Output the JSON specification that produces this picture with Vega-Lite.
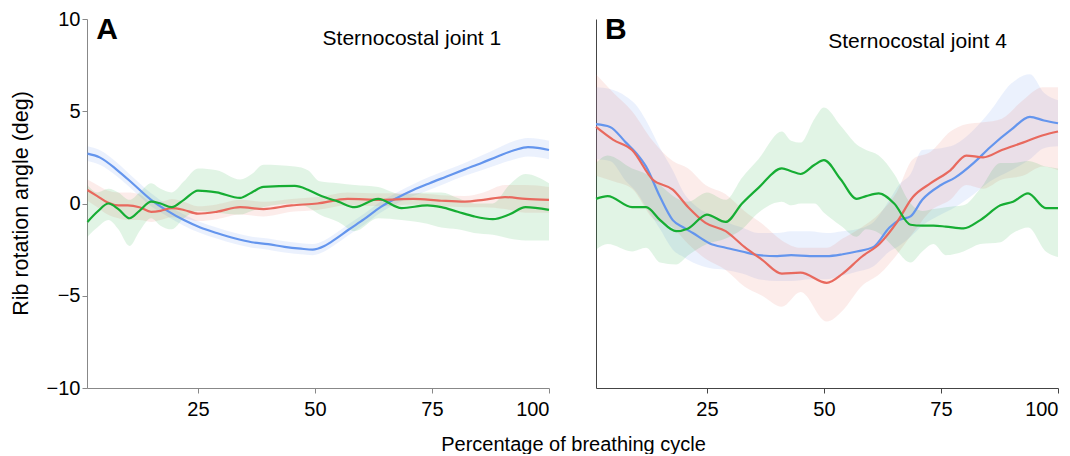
{
  "$schema": "https://vega.github.io/schema/vega-lite/v6.json",
  "padding": {"left": 10, "top": 9, "right": 5, "bottom": 0},
  "bounds": "flush",
  "spacing": 47,
  "config": {
    "font": "Liberation Sans",
    "view": {"stroke": null},
    "axis": {"grid": false, "labelFontSize": 20, "labelColor": "#000", "titleColor": "#000", "titleFontWeight": "normal", "tickSize": 5, "labelPadding": 6}
  },
  "data": {"values": [
    {"panel":"A","series":"S1","x":1.4,"y":2.7,"lo":2.3,"hi":3.1},
    {"panel":"A","series":"S1","x":4,"y":2.5,"lo":2.1,"hi":2.9},
    {"panel":"A","series":"S1","x":7.8,"y":1.8,"lo":1.45,"hi":2.2},
    {"panel":"A","series":"S1","x":11,"y":1.1,"lo":0.75,"hi":1.45},
    {"panel":"A","series":"S1","x":15,"y":0.2,"lo":-0.15,"hi":0.55},
    {"panel":"A","series":"S1","x":18.5,"y":-0.4,"lo":-0.7,"hi":-0.1},
    {"panel":"A","series":"S1","x":22,"y":-0.9,"lo":-1.2,"hi":-0.6},
    {"panel":"A","series":"S1","x":25.5,"y":-1.3,"lo":-1.6,"hi":-1.0},
    {"panel":"A","series":"S1","x":29,"y":-1.6,"lo":-1.9,"hi":-1.3},
    {"panel":"A","series":"S1","x":33,"y":-1.9,"lo":-2.2,"hi":-1.6},
    {"panel":"A","series":"S1","x":36.5,"y":-2.1,"lo":-2.4,"hi":-1.8},
    {"panel":"A","series":"S1","x":40,"y":-2.2,"lo":-2.5,"hi":-1.9},
    {"panel":"A","series":"S1","x":43.5,"y":-2.35,"lo":-2.65,"hi":-2.05},
    {"panel":"A","series":"S1","x":47,"y":-2.45,"lo":-2.75,"hi":-2.15},
    {"panel":"A","series":"S1","x":49.5,"y":-2.5,"lo":-2.8,"hi":-2.2},
    {"panel":"A","series":"S1","x":52,"y":-2.3,"lo":-2.6,"hi":-2.0},
    {"panel":"A","series":"S1","x":54.5,"y":-1.9,"lo":-2.2,"hi":-1.6},
    {"panel":"A","series":"S1","x":57,"y":-1.45,"lo":-1.75,"hi":-1.15},
    {"panel":"A","series":"S1","x":60.5,"y":-0.85,"lo":-1.15,"hi":-0.55},
    {"panel":"A","series":"S1","x":64,"y":-0.2,"lo":-0.5,"hi":0.1},
    {"panel":"A","series":"S1","x":67.5,"y":0.3,"lo":0.0,"hi":0.6},
    {"panel":"A","series":"S1","x":71,"y":0.73,"lo":0.4,"hi":1.05},
    {"panel":"A","series":"S1","x":74.5,"y":1.1,"lo":0.75,"hi":1.45},
    {"panel":"A","series":"S1","x":78,"y":1.45,"lo":1.1,"hi":1.8},
    {"panel":"A","series":"S1","x":82,"y":1.85,"lo":1.5,"hi":2.2},
    {"panel":"A","series":"S1","x":85.6,"y":2.2,"lo":1.8,"hi":2.6},
    {"panel":"A","series":"S1","x":89,"y":2.55,"lo":2.1,"hi":3.0},
    {"panel":"A","series":"S1","x":92.7,"y":2.9,"lo":2.4,"hi":3.4},
    {"panel":"A","series":"S1","x":95.5,"y":3.06,"lo":2.55,"hi":3.55},
    {"panel":"A","series":"S1","x":98,"y":3.0,"lo":2.5,"hi":3.5},
    {"panel":"A","series":"S1","x":100,"y":2.9,"lo":2.4,"hi":3.4},

    {"panel":"A","series":"S2","x":1.4,"y":0.73,"lo":0.15,"hi":1.3},
    {"panel":"A","series":"S2","x":3.5,"y":0.4,"lo":-0.2,"hi":1.0},
    {"panel":"A","series":"S2","x":5.7,"y":0.05,"lo":-0.6,"hi":0.7},
    {"panel":"A","series":"S2","x":8,"y":-0.1,"lo":-0.8,"hi":0.6},
    {"panel":"A","series":"S2","x":10,"y":-0.1,"lo":-0.9,"hi":0.6},
    {"panel":"A","series":"S2","x":12.5,"y":-0.2,"lo":-0.9,"hi":0.5},
    {"panel":"A","series":"S2","x":15,"y":-0.45,"lo":-1.0,"hi":0.1},
    {"panel":"A","series":"S2","x":17,"y":-0.4,"lo":-0.9,"hi":0.1},
    {"panel":"A","series":"S2","x":19.4,"y":-0.25,"lo":-0.75,"hi":0.25},
    {"panel":"A","series":"S2","x":22,"y":-0.35,"lo":-0.8,"hi":0.1},
    {"panel":"A","series":"S2","x":25,"y":-0.55,"lo":-0.95,"hi":-0.15},
    {"panel":"A","series":"S2","x":29,"y":-0.45,"lo":-0.85,"hi":-0.05},
    {"panel":"A","series":"S2","x":34,"y":-0.2,"lo":-0.6,"hi":0.2},
    {"panel":"A","series":"S2","x":39,"y":-0.3,"lo":-0.7,"hi":0.1},
    {"panel":"A","series":"S2","x":45,"y":-0.1,"lo":-0.45,"hi":0.25},
    {"panel":"A","series":"S2","x":50.5,"y":0.0,"lo":-0.35,"hi":0.35},
    {"panel":"A","series":"S2","x":57,"y":0.25,"lo":-0.1,"hi":0.6},
    {"panel":"A","series":"S2","x":64,"y":0.2,"lo":-0.15,"hi":0.55},
    {"panel":"A","series":"S2","x":71,"y":0.25,"lo":-0.05,"hi":0.55},
    {"panel":"A","series":"S2","x":77,"y":0.15,"lo":-0.15,"hi":0.45},
    {"panel":"A","series":"S2","x":82,"y":0.1,"lo":-0.2,"hi":0.4},
    {"panel":"A","series":"S2","x":86,"y":0.2,"lo":-0.2,"hi":0.6},
    {"panel":"A","series":"S2","x":90.6,"y":0.35,"lo":-0.3,"hi":1.0},
    {"panel":"A","series":"S2","x":95,"y":0.25,"lo":-0.5,"hi":1.0},
    {"panel":"A","series":"S2","x":100,"y":0.2,"lo":-0.5,"hi":0.9},

    {"panel":"A","series":"S3","x":1.4,"y":-1.0,"lo":-1.8,"hi":1.0},
    {"panel":"A","series":"S3","x":3.5,"y":-0.45,"lo":-1.3,"hi":0.6},
    {"panel":"A","series":"S3","x":5.9,"y":0.0,"lo":-0.9,"hi":0.8},
    {"panel":"A","series":"S3","x":8,"y":-0.3,"lo":-1.4,"hi":0.6},
    {"panel":"A","series":"S3","x":10.4,"y":-0.8,"lo":-2.3,"hi":0.2},
    {"panel":"A","series":"S3","x":12.5,"y":-0.4,"lo":-1.5,"hi":0.6},
    {"panel":"A","series":"S3","x":15,"y":0.1,"lo":-0.8,"hi":1.1},
    {"panel":"A","series":"S3","x":17,"y":0.0,"lo":-1.2,"hi":0.8},
    {"panel":"A","series":"S3","x":19.4,"y":-0.2,"lo":-1.4,"hi":0.6},
    {"panel":"A","series":"S3","x":22,"y":0.2,"lo":-0.8,"hi":1.2},
    {"panel":"A","series":"S3","x":25,"y":0.7,"lo":-0.4,"hi":1.9},
    {"panel":"A","series":"S3","x":29,"y":0.6,"lo":-0.5,"hi":1.8},
    {"panel":"A","series":"S3","x":34,"y":0.3,"lo":-0.6,"hi":1.3},
    {"panel":"A","series":"S3","x":36.5,"y":0.6,"lo":-0.4,"hi":1.6},
    {"panel":"A","series":"S3","x":39,"y":0.9,"lo":-0.2,"hi":2.1},
    {"panel":"A","series":"S3","x":45.7,"y":0.95,"lo":0.0,"hi":2.0},
    {"panel":"A","series":"S3","x":48.5,"y":0.75,"lo":-0.2,"hi":1.8},
    {"panel":"A","series":"S3","x":51,"y":0.45,"lo":-0.6,"hi":1.2},
    {"panel":"A","series":"S3","x":55,"y":0.1,"lo":-1.0,"hi":1.1},
    {"panel":"A","series":"S3","x":58.5,"y":-0.2,"lo":-1.5,"hi":1.0},
    {"panel":"A","series":"S3","x":63.5,"y":0.25,"lo":-0.8,"hi":0.9},
    {"panel":"A","series":"S3","x":68.5,"y":-0.25,"lo":-0.9,"hi":0.5},
    {"panel":"A","series":"S3","x":74,"y":-0.1,"lo":-1.1,"hi":0.6},
    {"panel":"A","series":"S3","x":77,"y":-0.2,"lo":-1.3,"hi":0.6},
    {"panel":"A","series":"S3","x":80.5,"y":-0.45,"lo":-1.4,"hi":0.3},
    {"panel":"A","series":"S3","x":84,"y":-0.7,"lo":-1.6,"hi":0.0},
    {"panel":"A","series":"S3","x":88,"y":-0.85,"lo":-1.7,"hi":0.0},
    {"panel":"A","series":"S3","x":91.5,"y":-0.6,"lo":-1.9,"hi":1.0},
    {"panel":"A","series":"S3","x":95,"y":-0.2,"lo":-2.0,"hi":1.6},
    {"panel":"A","series":"S3","x":100,"y":-0.35,"lo":-2.0,"hi":1.1},

    {"panel":"B","series":"S1","x":1.3,"y":4.3,"lo":2.4,"hi":6.3},
    {"panel":"B","series":"S1","x":4.3,"y":4.15,"lo":2.3,"hi":6.2},
    {"panel":"B","series":"S1","x":7.7,"y":3.3,"lo":1.2,"hi":5.8},
    {"panel":"B","series":"S1","x":10,"y":2.7,"lo":0.6,"hi":5.3},
    {"panel":"B","series":"S1","x":12,"y":2.0,"lo":-0.2,"hi":4.5},
    {"panel":"B","series":"S1","x":15,"y":0.35,"lo":-1.4,"hi":3.0},
    {"panel":"B","series":"S1","x":17.7,"y":-0.9,"lo":-2.5,"hi":1.8},
    {"panel":"B","series":"S1","x":20,"y":-1.3,"lo":-2.9,"hi":0.6},
    {"panel":"B","series":"S1","x":22,"y":-1.6,"lo":-3.2,"hi":0.0},
    {"panel":"B","series":"S1","x":25.5,"y":-2.15,"lo":-3.5,"hi":-0.6},
    {"panel":"B","series":"S1","x":29,"y":-2.4,"lo":-3.6,"hi":-1.0},
    {"panel":"B","series":"S1","x":32.5,"y":-2.6,"lo":-3.8,"hi":-1.3},
    {"panel":"B","series":"S1","x":36,"y":-2.8,"lo":-4.1,"hi":-1.6},
    {"panel":"B","series":"S1","x":40,"y":-2.85,"lo":-4.2,"hi":-1.6},
    {"panel":"B","series":"S1","x":43,"y":-2.8,"lo":-4.2,"hi":-1.5},
    {"panel":"B","series":"S1","x":47,"y":-2.85,"lo":-4.1,"hi":-1.5},
    {"panel":"B","series":"S1","x":50.6,"y":-2.85,"lo":-4.1,"hi":-1.6},
    {"panel":"B","series":"S1","x":54,"y":-2.75,"lo":-3.9,"hi":-1.5},
    {"panel":"B","series":"S1","x":57,"y":-2.6,"lo":-3.7,"hi":-1.4},
    {"panel":"B","series":"S1","x":60.6,"y":-2.35,"lo":-3.4,"hi":-1.0},
    {"panel":"B","series":"S1","x":64,"y":-1.3,"lo":-2.6,"hi":0.2},
    {"panel":"B","series":"S1","x":66,"y":-0.9,"lo":-2.3,"hi":1.0},
    {"panel":"B","series":"S1","x":68.5,"y":-0.7,"lo":-1.8,"hi":1.6},
    {"panel":"B","series":"S1","x":71,"y":0.2,"lo":-1.2,"hi":2.9},
    {"panel":"B","series":"S1","x":75,"y":1.0,"lo":-0.6,"hi":3.0},
    {"panel":"B","series":"S1","x":78,"y":1.4,"lo":-0.2,"hi":3.2},
    {"panel":"B","series":"S1","x":82,"y":2.2,"lo":0.5,"hi":4.0},
    {"panel":"B","series":"S1","x":85.5,"y":3.05,"lo":1.2,"hi":5.0},
    {"panel":"B","series":"S1","x":90,"y":4.0,"lo":1.8,"hi":6.5},
    {"panel":"B","series":"S1","x":94,"y":4.7,"lo":2.4,"hi":7.0},
    {"panel":"B","series":"S1","x":97,"y":4.5,"lo":3.0,"hi":6.0},
    {"panel":"B","series":"S1","x":100,"y":4.35,"lo":3.1,"hi":5.6},

    {"panel":"B","series":"S2","x":1.3,"y":4.15,"lo":1.5,"hi":7.0},
    {"panel":"B","series":"S2","x":5,"y":3.45,"lo":1.2,"hi":6.0},
    {"panel":"B","series":"S2","x":9,"y":2.9,"lo":0.8,"hi":5.0},
    {"panel":"B","series":"S2","x":13.4,"y":1.3,"lo":-0.8,"hi":3.4},
    {"panel":"B","series":"S2","x":17.7,"y":0.75,"lo":-1.3,"hi":2.3},
    {"panel":"B","series":"S2","x":21,"y":-0.2,"lo":-2.2,"hi":1.9},
    {"panel":"B","series":"S2","x":24.7,"y":-1.05,"lo":-3.0,"hi":1.0},
    {"panel":"B","series":"S2","x":29,"y":-1.5,"lo":-3.6,"hi":0.5},
    {"panel":"B","series":"S2","x":33,"y":-2.35,"lo":-4.5,"hi":-0.4},
    {"panel":"B","series":"S2","x":36.8,"y":-3.05,"lo":-5.0,"hi":-1.1},
    {"panel":"B","series":"S2","x":41,"y":-3.8,"lo":-5.6,"hi":-2.0},
    {"panel":"B","series":"S2","x":45,"y":-3.75,"lo":-4.8,"hi":-2.4},
    {"panel":"B","series":"S2","x":50.6,"y":-4.3,"lo":-6.4,"hi":-2.4},
    {"panel":"B","series":"S2","x":54,"y":-3.8,"lo":-5.8,"hi":-1.9},
    {"panel":"B","series":"S2","x":58,"y":-2.9,"lo":-4.5,"hi":-1.3},
    {"panel":"B","series":"S2","x":62,"y":-2.15,"lo":-3.8,"hi":-0.5},
    {"panel":"B","series":"S2","x":65.5,"y":-1.05,"lo":-2.8,"hi":0.6},
    {"panel":"B","series":"S2","x":69,"y":0.35,"lo":-1.6,"hi":2.4},
    {"panel":"B","series":"S2","x":72.8,"y":1.1,"lo":-0.4,"hi":2.8},
    {"panel":"B","series":"S2","x":77,"y":1.8,"lo":0.2,"hi":3.9},
    {"panel":"B","series":"S2","x":80.4,"y":2.6,"lo":1.0,"hi":4.3},
    {"panel":"B","series":"S2","x":84,"y":2.5,"lo":0.8,"hi":4.4},
    {"panel":"B","series":"S2","x":88,"y":2.9,"lo":1.3,"hi":4.6},
    {"panel":"B","series":"S2","x":92.5,"y":3.3,"lo":1.5,"hi":5.6},
    {"panel":"B","series":"S2","x":96.8,"y":3.7,"lo":2.0,"hi":6.3},
    {"panel":"B","series":"S2","x":100,"y":3.9,"lo":1.8,"hi":6.3},

    {"panel":"B","series":"S3","x":1.3,"y":0.25,"lo":-2.5,"hi":2.2},
    {"panel":"B","series":"S3","x":3.8,"y":0.4,"lo":-2.2,"hi":2.6},
    {"panel":"B","series":"S3","x":9,"y":-0.2,"lo":-2.6,"hi":1.9},
    {"panel":"B","series":"S3","x":12,"y":-0.2,"lo":-2.4,"hi":1.6},
    {"panel":"B","series":"S3","x":15,"y":-0.9,"lo":-3.2,"hi":1.0},
    {"panel":"B","series":"S3","x":18.4,"y":-1.5,"lo":-3.3,"hi":0.3},
    {"panel":"B","series":"S3","x":21,"y":-1.35,"lo":-2.8,"hi":0.1},
    {"panel":"B","series":"S3","x":25,"y":-0.6,"lo":-2.2,"hi":0.6},
    {"panel":"B","series":"S3","x":29,"y":-1.0,"lo":-1.9,"hi":0.2},
    {"panel":"B","series":"S3","x":32.5,"y":0.0,"lo":-1.4,"hi":1.4},
    {"panel":"B","series":"S3","x":36,"y":0.85,"lo":-0.5,"hi":2.4},
    {"panel":"B","series":"S3","x":41,"y":1.9,"lo":0.1,"hi":3.9},
    {"panel":"B","series":"S3","x":43,"y":1.75,"lo":-0.1,"hi":3.4},
    {"panel":"B","series":"S3","x":45,"y":1.6,"lo":0.0,"hi":3.3},
    {"panel":"B","series":"S3","x":48,"y":2.1,"lo":0.0,"hi":4.6},
    {"panel":"B","series":"S3","x":50,"y":2.35,"lo":-0.5,"hi":5.2},
    {"panel":"B","series":"S3","x":53.6,"y":1.3,"lo":-1.2,"hi":4.2},
    {"panel":"B","series":"S3","x":57,"y":0.25,"lo":-1.8,"hi":3.2},
    {"panel":"B","series":"S3","x":59,"y":0.4,"lo":-1.4,"hi":2.9},
    {"panel":"B","series":"S3","x":61.7,"y":0.55,"lo":-1.6,"hi":2.6},
    {"panel":"B","series":"S3","x":65,"y":0.0,"lo":-2.4,"hi":1.6},
    {"panel":"B","series":"S3","x":68.5,"y":-1.15,"lo":-3.2,"hi":0.0},
    {"panel":"B","series":"S3","x":71,"y":-1.2,"lo":-2.6,"hi":-0.4},
    {"panel":"B","series":"S3","x":73.4,"y":-1.2,"lo":-2.2,"hi":-0.3},
    {"panel":"B","series":"S3","x":76,"y":-1.25,"lo":-2.8,"hi":-0.2},
    {"panel":"B","series":"S3","x":79.8,"y":-1.35,"lo":-2.6,"hi":-0.1},
    {"panel":"B","series":"S3","x":83.4,"y":-0.9,"lo":-2.2,"hi":0.8},
    {"panel":"B","series":"S3","x":87.7,"y":-0.1,"lo":-2.1,"hi":2.2},
    {"panel":"B","series":"S3","x":90.4,"y":0.1,"lo":-1.6,"hi":2.2},
    {"panel":"B","series":"S3","x":93.6,"y":0.55,"lo":-1.3,"hi":2.3},
    {"panel":"B","series":"S3","x":97.4,"y":-0.25,"lo":-2.6,"hi":2.0},
    {"panel":"B","series":"S3","x":100,"y":-0.25,"lo":-2.9,"hi":1.9}
  ]},
  "hconcat": [
    {
      "width": 462,
      "height": 369,
      "layer": [
        {
          "transform": [{"filter": "datum.panel === 'A'"}],
          "mark": {"type": "area", "interpolate": "monotone", "fillOpacity": 0.13},
          "encoding": {
            "x": {"field": "x", "type": "quantitative", "scale": {"domain": [1.3, 100], "nice": false, "zero": false},
                  "axis": {"values": [25, 50, 75, 100], "domainColor": "#888", "tickColor": "#888", "title": "Percentage of breathing cycle", "titleFontSize": 20, "titleX": 486, "titleY": 62, "titleBaseline": "alphabetic", "titleAnchor": null, "titleAlign": "center"}},
            "y": {"field": "lo", "type": "quantitative", "scale": {"domain": [-10, 10], "nice": false},
                  "axis": {"values": [-10, -5, 0, 5, 10], "domainColor": "#888", "tickColor": "#888", "labelPadding": 2, "title": "Rib rotation angle (deg)", "titleFontSize": 21.5, "titleX": -66, "titleY": 184, "titleAngle": -90, "titleAlign": "center", "titleBaseline": "middle", "titleAnchor": null}},
            "y2": {"field": "hi"},
            "color": {"field": "series", "type": "nominal", "scale": {"domain": ["S1", "S2", "S3"], "range": ["#6495ED", "#E8695E", "#16AD33"]}, "legend": null}
          }
        },
        {
          "transform": [{"filter": "datum.panel === 'A'"}],
          "mark": {"type": "line", "interpolate": "monotone", "strokeWidth": 2.2},
          "encoding": {
            "x": {"field": "x", "type": "quantitative"},
            "y": {"field": "y", "type": "quantitative"},
            "color": {"field": "series", "type": "nominal", "scale": {"domain": ["S1", "S2", "S3"], "range": ["#5F95F2", "#E8706A", "#0DAF2E"]}, "legend": null}
          }
        },
        {
          "data": {"values": [{}]},
          "mark": {"type": "text", "fontSize": 30, "fontWeight": "bold", "align": "left", "baseline": "alphabetic"},
          "encoding": {"x": {"datum": 3.3}, "y": {"datum": 8.92}, "text": {"value": "A"}}
        },
        {
          "data": {"values": [{}]},
          "mark": {"type": "text", "fontSize": 21, "align": "center", "baseline": "alphabetic"},
          "encoding": {"x": {"datum": 70.7}, "y": {"datum": 8.59}, "text": {"value": "Sternocostal joint 1"}}
        }
      ]
    },
    {
      "width": 462,
      "height": 369,
      "layer": [
        {
          "transform": [{"filter": "datum.panel === 'B'"}],
          "mark": {"type": "area", "interpolate": "monotone", "fillOpacity": 0.13},
          "encoding": {
            "x": {"field": "x", "type": "quantitative", "scale": {"domain": [1.3, 100], "nice": false, "zero": false},
                  "axis": {"values": [25, 50, 75, 100], "domainColor": "#444", "tickColor": "#444", "title": null}},
            "y": {"field": "lo", "type": "quantitative", "scale": {"domain": [-10, 10], "nice": false},
                  "axis": {"labels": false, "ticks": false, "domainColor": "#444", "title": null}},
            "y2": {"field": "hi"},
            "color": {"field": "series", "type": "nominal", "scale": {"domain": ["S1", "S2", "S3"], "range": ["#6495ED", "#E8695E", "#16AD33"]}, "legend": null}
          }
        },
        {
          "transform": [{"filter": "datum.panel === 'B'"}],
          "mark": {"type": "line", "interpolate": "monotone", "strokeWidth": 2.2},
          "encoding": {
            "x": {"field": "x", "type": "quantitative"},
            "y": {"field": "y", "type": "quantitative"},
            "color": {"field": "series", "type": "nominal", "scale": {"domain": ["S1", "S2", "S3"], "range": ["#5F95F2", "#E8706A", "#0DAF2E"]}, "legend": null}
          }
        },
        {
          "data": {"values": [{}]},
          "mark": {"type": "text", "fontSize": 30, "fontWeight": "bold", "align": "left", "baseline": "alphabetic"},
          "encoding": {"x": {"datum": 3.2}, "y": {"datum": 8.92}, "text": {"value": "B"}}
        },
        {
          "data": {"values": [{}]},
          "mark": {"type": "text", "fontSize": 21, "align": "center", "baseline": "alphabetic"},
          "encoding": {"x": {"datum": 70.0}, "y": {"datum": 8.43}, "text": {"value": "Sternocostal joint 4"}}
        }
      ]
    }
  ]
}
